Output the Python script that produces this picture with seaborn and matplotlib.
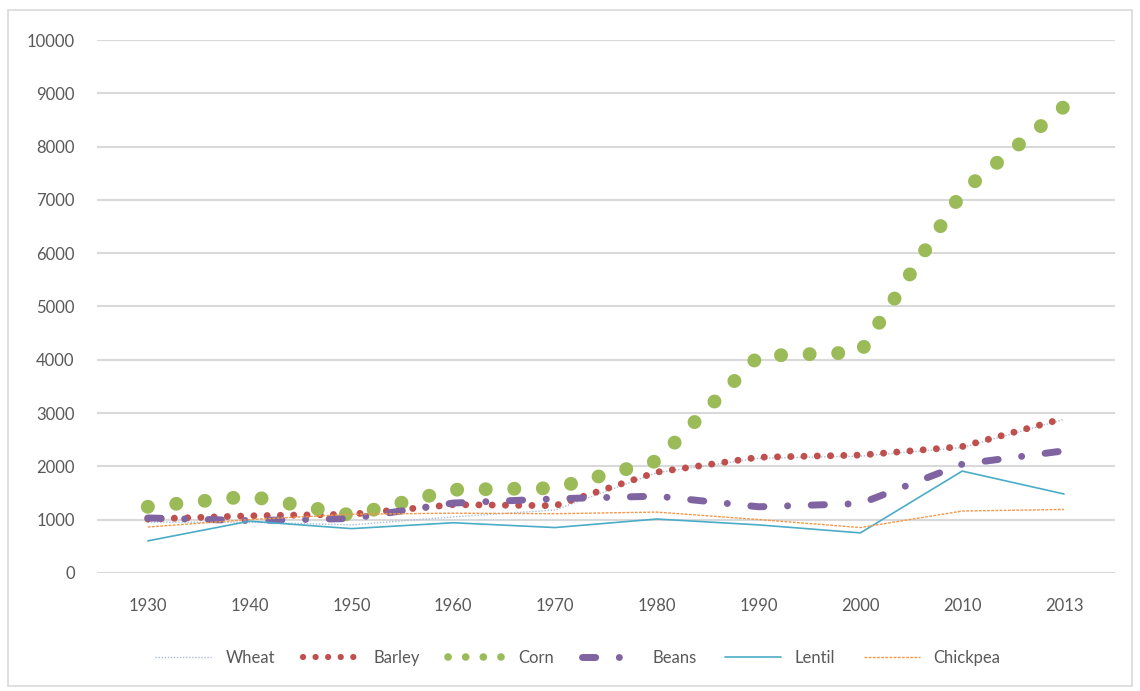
import numpy as np
import pandas as pd
import seaborn as sns
import matplotlib.pyplot as plt
from matplotlib.patches import Rectangle

# ---------------------------------
# Data
# ---------------------------------
years = ['1930', '1940', '1950', '1960', '1970', '1980', '1990', '2000', '2010', '2013']

wheat = [950, 950, 900, 1050, 1180, 1880, 2150, 2190, 2350, 2880]
barley = [1010, 1070, 1100, 1280, 1260, 1890, 2170, 2210, 2370, 2900]
corn = [1240, 1440, 1080, 1560, 1590, 2100, 4070, 4140, 7150, 8750]
beans = [1030, 980, 1020, 1310, 1390, 1440, 1240, 1300, 2040, 2290]
lentil = [600, 970, 830, 940, 850, 1010, 900, 750, 1910, 1480]
chickpea = [860, 1000, 1100, 1120, 1110, 1140, 1000, 850, 1160, 1190]

series = [
    ('Wheat', wheat, dict(color='#a9bcd6', lw=1.0, ls=(0, (1, 1.2)))),
    ('Barley', barley, dict(color='#c0504d', lw=5, ls=(0, (0.01, 1.9)),
                            dash_capstyle='round')),
    ('Corn', corn, dict(color='#9bbb59', lw=10, ls=(0, (0.01, 2.05)),
                        dash_capstyle='round')),
    ('Beans', beans, dict(color='#8064a2', lw=5, ls=(0, (1.9, 3.4, 0.01, 3.4)),
                          dash_capstyle='round')),
    ('Lentil', lentil, dict(color='#4bacc6', lw=1.2, ls='-')),
    ('Chickpea', chickpea, dict(color='#f79646', lw=1.0, ls=(0, (2, 1)))),
]

# ---------------------------------
# Plot
# ---------------------------------
sns.set_theme(style="whitegrid")
plt.rcParams['font.family'] = ['Lato', 'DejaVu Sans']

f = plt.figure(figsize=(11.4, 6.91), dpi=100)
ax = f.add_axes([0.085, 0.171, 0.893, 0.771])

x = np.arange(len(years))
for name, values, st in series:
    sns.lineplot(x=x, y=values, ax=ax, label=name, color=st['color'],
                 linewidth=st['lw'], linestyle=st['ls'],
                 dash_capstyle=st.get('dash_capstyle', 'butt'))

# Axes config
ax.set_xlim(-0.5, len(years) - 0.5)
ax.set_ylim(0, 10000)
ax.set_yticks(np.arange(0, 10001, 1000))
ax.set_xticks(x)
ax.set_xticklabels(years)
ax.grid(axis='x', visible=False)
ax.grid(axis='y', color='#d9d9d9', linewidth=1.5)
ax.set_facecolor('white')
for s in ax.spines.values():
    s.set_visible(False)
ax.tick_params(axis='y', length=0, pad=16, labelsize=12, labelcolor='#595959')
ax.tick_params(axis='x', length=0, pad=18, labelsize=12, labelcolor='#595959')
ax.set_xlabel('')
ax.set_ylabel('')

# Legend at the bottom
handles, labels = ax.get_legend_handles_labels()
ax.get_legend().remove()
leg = f.legend(handles, labels, loc='center', bbox_to_anchor=(0.507, 0.048),
               ncol=6, frameon=False, fontsize=12, handlelength=3.4,
               columnspacing=1.7, labelcolor='#595959')

# Smaller dots in the legend keys (as in the reference)
for h, name in zip(leg.legend_handles, labels):
    if name == 'Corn':
        h.set_linewidth(5.5)
        h.set_linestyle((0, (0.01, 2.3)))
    elif name == 'Barley':
        h.set_linewidth(4.5)
        h.set_linestyle((0, (0.01, 2.0)))

# Outer chart border
f.patches.append(Rectangle((0.007, 0.007), 0.986, 0.978, transform=f.transFigure,
                           fill=False, edgecolor='#d9d9d9', linewidth=1.2))

f.savefig('out.png', dpi=100)
